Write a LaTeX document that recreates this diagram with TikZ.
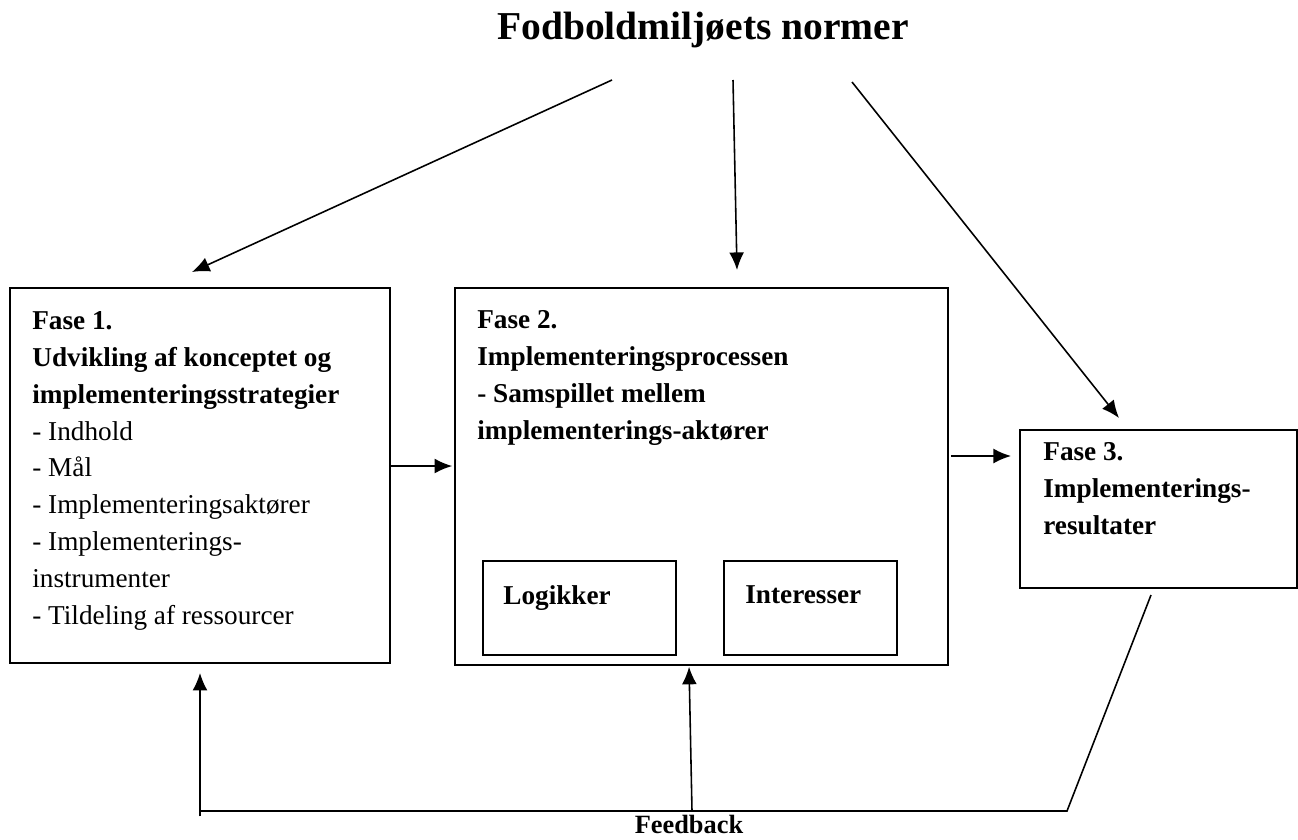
\documentclass[tikz,border=0pt]{standalone}
\usepackage{fontspec}
\setmainfont{Liberation Serif}
\usetikzlibrary{arrows.meta}

\begin{document}
\begin{tikzpicture}[x=0.02cm, y=-0.02cm, >={Latex[length=10pt, width=8.5pt]},
		fase/.style={draw=black, line width=1.3pt, inner sep=0pt},
		txt/.style={anchor=north west, align=left, inner sep=0pt, font=\fontsize{15.5}{21}\selectfont},
		pil/.style={->, line width=0.9pt}]
		\useasboundingbox (0,0) rectangle (1298,839);

		\node[font=\fontsize{22.5}{27}\selectfont\bfseries](normer) at (703,30) {Fodboldmiljøets normer};

		\node[fase, minimum width=7.6cm, minimum height=7.5cm](fase1) at (200,475.5) {};
		\node[fase, minimum width=9.86cm, minimum height=7.54cm](fase2) at (701.5,476.5) {};
		\node[fase, minimum width=5.54cm, minimum height=3.16cm](fase3) at (1158.5,509) {};

		\node[fase, line width=1.1pt, minimum width=3.86cm, minimum height=1.88cm](logik) at (579.5,608) {};
		\node[fase, line width=1.1pt, minimum width=3.46cm, minimum height=1.88cm](inter) at (810.5,608) {};

		\node[txt](tekst1) at (32,311) {\textbf{Fase 1.}\\ \textbf{Udvikling af konceptet og}\\ \textbf{implementeringsstrategier}\\ - Indhold\\ - Mål\\ - Implementeringsaktører\\ - Implementerings-\\ instrumenter\\ - Tildeling af ressourcer};
		\node[txt, font=\fontsize{15.5}{21}\selectfont\bfseries](tekst2) at (477,310) {Fase 2.\\ Implementeringsprocessen\\ - Samspillet mellem\\ implementerings-aktører};
		\node[txt, font=\fontsize{15.5}{21}\selectfont\bfseries](tekst3) at (1043,442) {Fase 3.\\ Implementerings-\\ resultater};
		\node[txt, font=\fontsize{15.5}{21}\selectfont\bfseries](tlogik) at (503,585) {Logikker};
		\node[txt, font=\fontsize{15.5}{21}\selectfont\bfseries](tinter) at (745,585) {Interesser};

		\node[font=\fontsize{15}{18}\selectfont\bfseries](feedback) at (689,824) {Feedback};

		% normerne
		\coordinate (n1) at (612,80);
		\coordinate (n2) at (733,80);
		\coordinate (n3) at (852,82);
		\coordinate (m1) at (192,272);
		\coordinate (m2) at (737,270);
		\coordinate (m3) at (1119,418);
		\draw[pil](n1) -- (m1);
		\draw[pil](n2) -- (m2);
		\draw[pil](n3) -- (m3);

		% faserne
		\draw[pil, shorten >=1pt]([yshift=0.19cm]fase1.east) -- ([yshift=0.19cm]fase1.east -| fase2.west);
		\draw[pil, shorten <=1pt, shorten >=4.5pt]([yshift=0.41cm]fase2.east) -- ([yshift=0.41cm]fase2.east -| fase3.west);

		% feedback
		\coordinate (f0) at (1151,595);
		\coordinate (f1) at (1067,811);
		\coordinate (f2) at (200,811);
		\coordinate (f3) at (692,811);
		\coordinate (f4) at (689,665);
		\draw[line width=0.9pt](f0) -- (f1) -- (f2);
		\draw[pil, shorten >=5pt]([yshift=-3pt]f2) -- (f2 |- fase1.south);
		\draw[pil, shorten >=1pt](f3) -- (f4);
	\end{tikzpicture}
\end{document}
